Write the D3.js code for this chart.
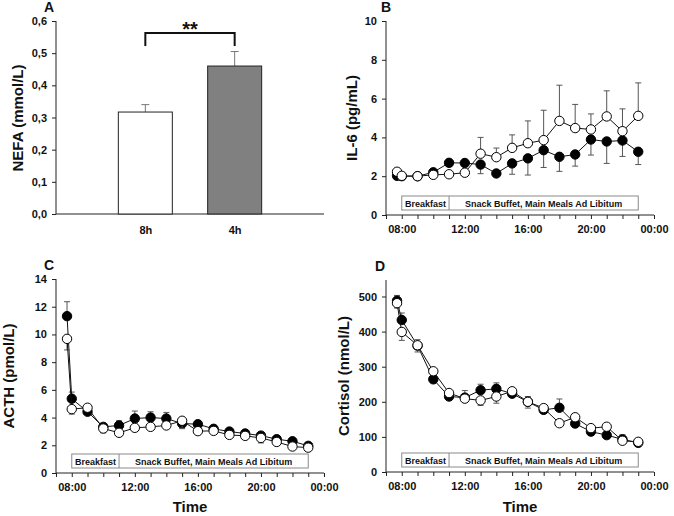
<!DOCTYPE html>
<meta charset="utf-8">
<script src="https://d3js.org/d3.v7.min.js"></script>
<style>
  body { margin: 0; background: #fff; }
  text { font-family: "Liberation Sans", Arial, sans-serif; font-weight: bold; fill: #111; }
</style>
<div id="chart"></div>
<script>

// ---- data ----
var groups = ["8h", "4h"];
var nefaMean = [0.317, 0.46];
var nefaErr = [0.023, 0.045];

// sampling times (hour of day)
var hours = [7.7, 8, 9, 10, 11, 12, 13, 14, 15, 16, 17, 18, 19, 20, 21, 22, 23];
var hourTicks = [8, 12, 16, 20, 24];
var hourTickLabels = ["08:00", "12:00", "16:00", "20:00", "00:00"];

var il6Filled    = [2.02, 2.0, 2.0, 2.2, 2.69, 2.68, 2.6, 2.14, 2.66, 2.92, 3.34, 3.0, 3.12, 3.89, 3.79, 3.84, 3.26];
var il6FilledErr = [0.05, 0.03, 0.03, 0.05, 0.1, 0.1, 0.47, 0.05, 0.56, 0.86, 0.89, 0.75, 0.6, 0.8, 1.13, 0.82, 0.66];
var il6Open      = [2.23, 2.02, 2.0, 2.07, 2.1, 2.18, 3.16, 2.98, 3.46, 3.7, 3.86, 4.85, 4.48, 4.41, 5.08, 4.32, 5.11];
var il6OpenErr   = [0.05, 0.03, 0.03, 0.05, 0.05, 0.05, 0.84, 0.47, 0.67, 1.15, 1.54, 1.84, 1.22, 0.8, 1.32, 1.15, 1.7];

var acthFilled    = [11.32, 5.36, 4.42, 3.33, 3.43, 3.93, 4.0, 3.93, 3.57, 3.52, 3.19, 2.99, 2.85, 2.7, 2.44, 2.29, 1.96];
var acthFilledErr = [1.04, 0.48, 0.15, 0.15, 0.34, 0.54, 0.42, 0.44, 0.15, 0.25, 0.15, 0.15, 0.15, 0.15, 0.15, 0.15, 0.1];
var acthOpen      = [9.68, 4.61, 4.71, 3.21, 2.9, 3.26, 3.33, 3.43, 3.77, 3.02, 3.04, 2.75, 2.68, 2.53, 2.24, 1.91, 1.83];
var acthOpenErr   = [0.8, 0.36, 0.15, 0.31, 0.1, 0.1, 0.1, 0.1, 0.57, 0.1, 0.1, 0.1, 0.15, 0.36, 0.1, 0.1, 0.1];

var cortFilled    = [488, 433, 360, 264, 215, 212, 233, 237, 223, 200, 177, 183, 138, 115, 105, 93, 83];
var cortFilledErr = [15, 20, 17, 8, 8, 20, 17, 17, 10, 15, 8, 25, 8, 8, 8, 13, 5];
var cortOpen      = [481, 399, 361, 287, 225, 209, 204, 215, 230, 200, 182, 139, 156, 125, 129, 89, 86];
var cortOpenErr   = [14, 24, 19, 8, 8, 8, 14, 19, 8, 18, 8, 8, 8, 8, 8, 8, 5];

var mealLabels = ["Breakfast", "Snack Buffet, Main Meals Ad Libitum"];
var mealBounds = [8, 11, 23];

// ---- svg ----
var svg = d3.select("#chart").append("svg")
  .attr("width", 674).attr("height", 516);

function styleAxis(g) {
  g.selectAll("path, line").attr("stroke", "#222").attr("stroke-width", 1);
  g.selectAll("text").attr("font-size", 11).attr("font-family", "Liberation Sans, Arial, sans-serif")
    .attr("font-weight", "bold").attr("fill", "#111");
}

// ---- panel A: NEFA bars ----
(function() {
  var left = 56, top = 21, w = 268, h = 193;
  var g = svg.append("g").attr("transform", "translate(" + left + "," + top + ")");
  var x = d3.scalePoint().domain(groups).range([0, w]).padding(1);
  var y = d3.scaleLinear().domain([0, 0.6]).range([h, 0]);
  var bw = 54;

  g.append("g").attr("transform", "translate(0," + h + ")")
    .call(d3.axisBottom(x).tickSize(0).tickPadding(12))
    .call(styleAxis);
  g.append("g")
    .call(d3.axisLeft(y).tickValues(d3.range(0, 0.61, 0.1)).tickSize(4).tickPadding(5)
      .tickFormat(function(d) { return d3.format(".1f")(d).replace(".", ","); }))
    .call(styleAxis);
  g.selectAll(".domain").attr("d", function() {
    return this.parentNode.getAttribute("transform") ? "M0,0H" + w : "M0,0V" + h;
  });

  var data = groups.map(function(k, i) { return { k: k, v: nefaMean[i], e: nefaErr[i] }; });

  // error bars (behind bars)
  var eb = g.selectAll(".eb").data(data).enter().append("g").attr("stroke", "#777").attr("stroke-width", 1);
  eb.append("line")
    .attr("x1", function(d) { return x(d.k); }).attr("x2", function(d) { return x(d.k); })
    .attr("y1", function(d) { return y(d.v); }).attr("y2", function(d) { return y(d.v + d.e); });
  eb.append("line")
    .attr("x1", function(d) { return x(d.k) - 4; }).attr("x2", function(d) { return x(d.k) + 4; })
    .attr("y1", function(d) { return y(d.v + d.e); }).attr("y2", function(d) { return y(d.v + d.e); });

  g.selectAll("rect").data(data).enter().append("rect")
    .attr("x", function(d) { return x(d.k) - bw / 2; })
    .attr("y", function(d) { return y(d.v); })
    .attr("width", bw)
    .attr("height", function(d) { return h - y(d.v); })
    .attr("fill", function(d, i) { return i === 0 ? "#fff" : "#808080"; })
    .attr("stroke", "#222").attr("stroke-width", 1);

  // significance bracket
  var by = 12;
  g.append("path")
    .attr("d", "M" + x(groups[0]) + "," + (by + 13) + "V" + by + "H" + x(groups[1]) + "V" + (by + 13))
    .attr("fill", "none").attr("stroke", "#111").attr("stroke-width", 2);
  g.append("text").attr("x", (x(groups[0]) + x(groups[1])) / 2).attr("y", by + 3)
    .attr("text-anchor", "middle").attr("font-size", 20).text("**");

  svg.append("text").attr("x", 49).attr("y", 12).attr("font-size", 14).attr("text-anchor", "middle").text("A");
  svg.append("text").attr("transform", "translate(23,118) rotate(-90)")
    .attr("text-anchor", "middle").attr("font-size", 15).text("NEFA (mmol/L)");
})();

// ---- time-course panels ----
function timePanel(o) {
  var w = 268, h = o.h;
  var g = svg.append("g").attr("transform", "translate(" + o.left + "," + o.top + ")");
  var x = d3.scaleLinear().domain([7, 24]).range([0, w]);
  var y = d3.scaleLinear().domain(o.yDomain).range([h, 0]);

  g.append("g").attr("transform", "translate(0," + h + ")")
    .call(d3.axisBottom(x).tickValues(d3.range(7, 25)).tickSize(4).tickPadding(6)
      .tickFormat(function(d) { var i = hourTicks.indexOf(d); return i < 0 ? "" : hourTickLabels[i]; }))
    .call(styleAxis);
  g.append("g")
    .call(d3.axisLeft(y).tickValues(o.yTicks).tickSize(4).tickPadding(5))
    .call(styleAxis);
  g.selectAll(".domain").each(function(d, i) {
    d3.select(this).attr("d", i === 0 ? "M0,0H" + w : "M0," + h + "V0");
  });

  // meal timeline box
  var bt = h - 19, bb = h - 5;
  g.append("rect").attr("x", x(mealBounds[0])).attr("y", bt)
    .attr("width", x(mealBounds[2]) - x(mealBounds[0])).attr("height", bb - bt)
    .attr("fill", "#fff").attr("stroke", "#8a8a8a").attr("stroke-width", 1);
  g.append("line").attr("x1", x(mealBounds[1])).attr("x2", x(mealBounds[1]))
    .attr("y1", bt).attr("y2", bb).attr("stroke", "#8a8a8a");
  mealLabels.forEach(function(lab, i) {
    g.append("text").attr("x", (x(mealBounds[i]) + x(mealBounds[i + 1])) / 2).attr("y", bb - 3.5)
      .attr("text-anchor", "middle").attr("font-size", 9).attr("fill", "#333").text(lab);
  });

  var line = d3.line().x(function(d) { return x(d.t); }).y(function(d) { return y(d.v); });

  o.series.forEach(function(s) {
    var data = hours.map(function(t, i) { return { t: t, v: s.v[i], e: s.e[i] }; });
    var dir = s.up ? 1 : -1;
    var eg = g.append("g").attr("stroke", "#555").attr("stroke-width", 1);
    eg.selectAll(".v").data(data).enter().append("line")
      .attr("x1", function(d) { return x(d.t); }).attr("x2", function(d) { return x(d.t); })
      .attr("y1", function(d) { return y(d.v); }).attr("y2", function(d) { return y(d.v + dir * d.e); });
    eg.selectAll(".c").data(data).enter().append("line")
      .attr("x1", function(d) { return x(d.t) - 3; }).attr("x2", function(d) { return x(d.t) + 3; })
      .attr("y1", function(d) { return y(d.v + dir * d.e); }).attr("y2", function(d) { return y(d.v + dir * d.e); });
    g.append("path").datum(data).attr("d", line)
      .attr("fill", "none").attr("stroke", "#111").attr("stroke-width", 1);
    g.selectAll(null).data(data).enter().append("circle")
      .attr("cx", function(d) { return x(d.t); }).attr("cy", function(d) { return y(d.v); })
      .attr("r", 4.7)
      .attr("fill", s.filled ? "#000" : "#fff").attr("stroke", "#000").attr("stroke-width", 1);
  });

  svg.append("text").attr("x", o.letterX).attr("y", o.letterY).attr("font-size", 14)
    .attr("text-anchor", "middle").text(o.letter);
  svg.append("text").attr("transform", "translate(" + o.titleX + "," + (o.top + h / 2) + ") rotate(-90)")
    .attr("text-anchor", "middle").attr("font-size", 15).text(o.title);
  if (o.time) {
    svg.append("text").attr("x", o.left + w / 2).attr("y", 512).attr("text-anchor", "middle")
      .attr("font-size", 15).text("Time");
  }
}

timePanel({
  left: 386, top: 21, h: 194, yDomain: [0, 10], yTicks: [0, 2, 4, 6, 8, 10],
  letter: "B", letterX: 386, letterY: 12, title: "IL-6 (pg/mL)", titleX: 357,
  series: [
    { v: il6Filled, e: il6FilledErr, filled: true, up: false },
    { v: il6Open, e: il6OpenErr, filled: false, up: true }
  ]
});

timePanel({
  left: 56, top: 279, h: 194, yDomain: [0, 14], yTicks: [0, 2, 4, 6, 8, 10, 12, 14],
  letter: "C", letterX: 49, letterY: 270, title: "ACTH (pmol/L)", titleX: 14, time: true,
  series: [
    { v: acthFilled, e: acthFilledErr, filled: true, up: true },
    { v: acthOpen, e: acthOpenErr, filled: false, up: false }
  ]
});

timePanel({
  left: 386, top: 280, h: 192, yDomain: [0, 547], yTicks: [0, 100, 200, 300, 400, 500],
  letter: "D", letterX: 380, letterY: 271, title: "Cortisol (nmol/L)", titleX: 349, time: true,
  series: [
    { v: cortFilled, e: cortFilledErr, filled: true, up: true },
    { v: cortOpen, e: cortOpenErr, filled: false, up: false }
  ]
});

</script>
